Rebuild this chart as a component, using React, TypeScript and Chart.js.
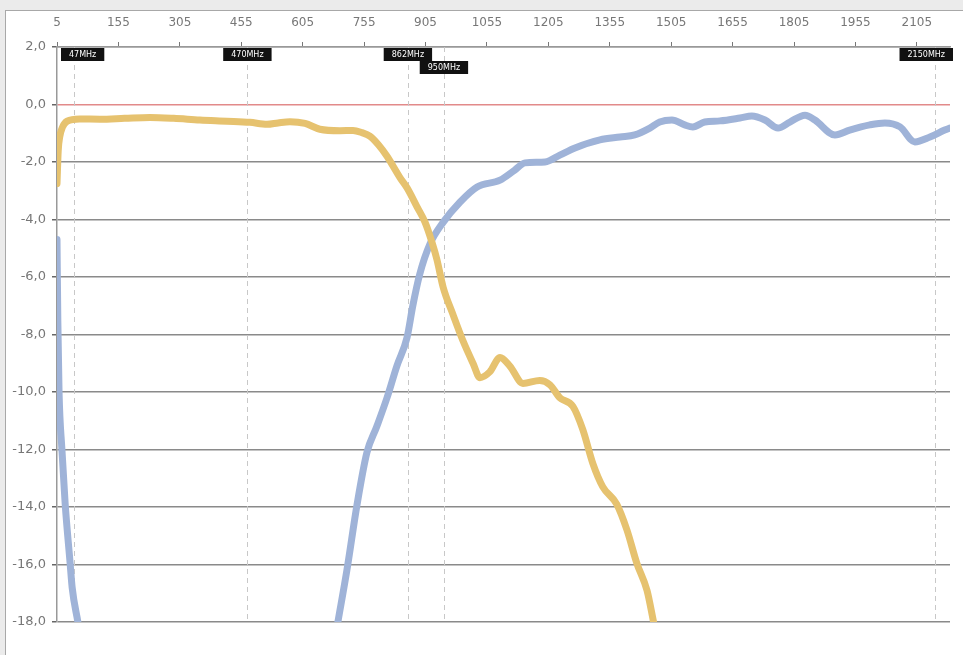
import React, { useEffect, useRef } from "react";
import { Chart, registerables } from "chart.js";

Chart.register(...registerables);

const xTickValues = [5, 155, 305, 455, 605, 755, 905, 1055, 1205, 1355, 1505, 1655, 1805, 1955, 2105];
const yTickValues = [2, 0, -2, -4, -6, -8, -10, -12, -14, -16, -18];

const markerMHz = [47, 470, 862, 950, 2150];
const markerLabels = ["47MHz", "470MHz", "862MHz", "950MHz", "2150MHz"];

const yellowMHz = [5, 8, 12, 18, 30, 60, 110, 170, 232, 290, 354, 420, 476, 518, 545, 574, 611, 647, 696, 728, 750, 769, 790, 811, 843, 860, 884, 904, 921, 933, 948, 972, 996, 1021, 1038, 1062, 1087, 1111, 1143, 1184, 1209, 1233, 1265, 1289, 1314, 1338, 1372, 1397, 1421, 1446, 1462];
const yellowDb = [-2.75, -1.6, -1.1, -0.8, -0.58, -0.5, -0.51, -0.48, -0.45, -0.48, -0.54, -0.58, -0.62, -0.69, -0.64, -0.6, -0.66, -0.86, -0.91, -0.9, -0.98, -1.1, -1.4, -1.8, -2.55, -2.9, -3.55, -4.1, -4.8, -5.4, -6.35, -7.3, -8.2, -9.0, -9.5, -9.3, -8.8, -9.1, -9.7, -9.6, -9.75, -10.2, -10.5, -11.3, -12.5, -13.3, -13.9, -14.8, -15.95, -16.9, -18];

const blueMHz = [5, 7, 10, 17, 25, 37, 42, 56, 370, 691, 713, 738, 762, 786, 811, 835, 860, 874, 891, 916, 948, 989, 1031, 1087, 1123, 1148, 1197, 1233, 1270, 1331, 1380, 1416, 1453, 1477, 1507, 1538, 1558, 1587, 1624, 1673, 1702, 1734, 1766, 1795, 1832, 1856, 1905, 1941, 1990, 2027, 2064, 2100, 2137, 2173, 2186];
const blueDb: (number | null)[] = [-4.7, -7.5, -10, -12, -13.9, -15.95, -16.8, -18, null, -18, -16.2, -13.9, -12.1, -11.2, -10.2, -9.1, -8.1, -7.0, -5.9, -4.85, -4.1, -3.4, -2.87, -2.63, -2.28, -2.03, -2.0, -1.76, -1.51, -1.23, -1.13, -1.06, -0.82, -0.61, -0.54, -0.71, -0.78, -0.61, -0.57, -0.47, -0.4, -0.54, -0.82, -0.61, -0.37, -0.54, -1.06, -0.89, -0.71, -0.64, -0.78, -1.3, -1.13, -0.89, -0.82];

const markerPlugin = {
  id: "markers",
  beforeDatasetsDraw(chart: any) {
    const { ctx, chartArea, scales } = chart;
    const x = scales.x;
    ctx.save();
    ctx.strokeStyle = "#c8c8c8";
    ctx.lineWidth = 1;
    ctx.setLineDash([5, 4]);
    markerMHz.forEach((v) => {
      const px = Math.round(x.getPixelForValue(v)) + 0.5;
      ctx.beginPath();
      ctx.moveTo(px, chartArea.top);
      ctx.lineTo(px, chartArea.bottom);
      ctx.stroke();
    });
    ctx.restore();
  },
  afterDatasetsDraw(chart: any) {
    const { ctx, chartArea, scales } = chart;
    const x = scales.x;
    ctx.save();
    ctx.font = "8px 'DejaVu Sans'";
    ctx.textAlign = "center";
    ctx.textBaseline = "middle";
    const rowRight: number[] = [];
    const h = 13;
    markerMHz.forEach((v, i) => {
      const label = markerLabels[i];
      const px = x.getPixelForValue(v);
      const w = ctx.measureText(label).width + 16;
      let left = px - w / 2;
      if (left < chartArea.left + 4) left = chartArea.left + 4;
      if (left + w > chartArea.right + 3) left = chartArea.right + 3 - w;
      let row = 0;
      while (rowRight[row] !== undefined && left < rowRight[row] + 1) row++;
      rowRight[row] = left + w;
      const top = chartArea.top + 1 + row * h;
      ctx.fillStyle = "#111";
      ctx.fillRect(left, top, w, h);
      ctx.fillStyle = "#fff";
      ctx.fillText(label, left + w / 2, top + h / 2 + 0.5);
    });
    ctx.restore();
  },
};

export default function App() {
  const ref = useRef<HTMLCanvasElement | null>(null);
  useEffect(() => {
    if (!ref.current) return;
    const chart = new Chart(ref.current, {
      type: "line",
      data: {
        datasets: [
          {
            data: yellowMHz.map((m, i) => ({ x: m, y: yellowDb[i] })),
            borderColor: "#e6c26f",
            borderWidth: 7,
            pointRadius: 0,
            cubicInterpolationMode: "monotone",
            borderCapStyle: "round",
            borderJoinStyle: "round",
            fill: false,
          },
          {
            data: blueMHz.map((m, i) => ({ x: m, y: blueDb[i] })),
            borderColor: "#9fb3d8",
            borderWidth: 7,
            pointRadius: 0,
            cubicInterpolationMode: "monotone",
            borderCapStyle: "round",
            borderJoinStyle: "round",
            spanGaps: false,
            fill: false,
          },
        ],
      } as any,
      options: {
        animation: false,
        responsive: false,
        layout: { padding: { left: 0, top: 0, right: 13, bottom: 33 } },
        plugins: { legend: { display: false }, tooltip: { enabled: false } },
        scales: {
          x: {
            type: "linear",
            position: "top",
            min: 5,
            max: 2186,
            afterBuildTicks: (scale: any) => {
              scale.ticks = xTickValues.map((v) => ({ value: v }));
            },
            afterFit: (scale: any) => {
              scale.height = 47;
            },
            grid: { drawOnChartArea: false, drawTicks: true, tickLength: 5, color: "#777" },
            border: { display: true, color: "#999", width: 1.5 },
            ticks: {
              autoSkip: false,
              maxRotation: 0,
              padding: 12,
              color: "#777",
              font: { family: "'DejaVu Sans'", size: 12 },
              callback: (v: any) => String(v),
            },
          },
          y: {
            type: "linear",
            min: -18,
            max: 2,
            afterBuildTicks: (scale: any) => {
              scale.ticks = yTickValues.map((v) => ({ value: v }));
            },
            afterFit: (scale: any) => {
              scale.width = 57;
            },
            grid: {
              color: (c: any) => (c.tick && c.tick.value === 0 ? "#e28a8a" : c.tick && c.tick.value === 2 ? "#999" : "#8a8a8a"),
              lineWidth: 1.5,
              tickColor: "#666",
              tickLength: 5,
            },
            border: { display: true, color: "#999", width: 1.5 },
            ticks: {
              padding: 6,
              color: "#777",
              font: { family: "'DejaVu Sans'", size: 13 },
              callback: (v: any) => Number(v).toFixed(1).replace(".", ","),
            },
          },
        },
      } as any,
      plugins: [markerPlugin],
    });
    return () => chart.destroy();
  }, []);

  return (
    <div style={{ position: "fixed", left: 0, top: 0, width: 963, height: 655, background: "#ebebeb", overflow: "hidden" }}>
      <div
        style={{
          position: "absolute",
          left: 5,
          top: 10,
          width: 980,
          height: 680,
          background: "#fff",
          borderLeft: "1px solid #a8a8a8",
          borderTop: "1px solid #a8a8a8",
        }}
      />
      <canvas ref={ref} width={963} height={655} style={{ position: "absolute", left: 0, top: 0, width: 963, height: 655 }} />
    </div>
  );
}
